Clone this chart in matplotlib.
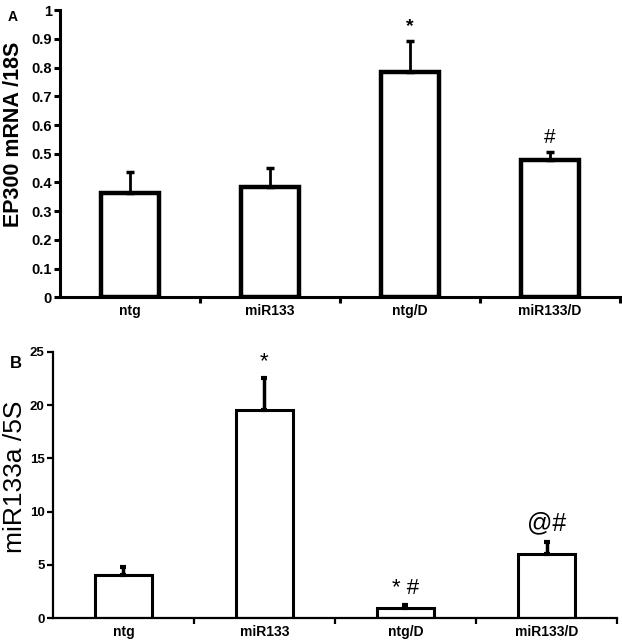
import numpy as np
import matplotlib.pyplot as plt

groups = ["ntg", "miR133", "ntg/D", "miR133/D"]

# panel A: EP300 mRNA / 18S
ep300 = [0.365, 0.383, 0.784, 0.477]
ep300_err = [0.07, 0.067, 0.108, 0.028]
ep300_marks = ["", "", "*", "#"]

# panel B: miR133a / 5S
mir = [4.05, 19.55, 0.95, 6.0]
mir_err = [0.75, 2.95, 0.3, 1.2]
mir_marks = ["", "*", "* #", "@#"]

plt.rcParams['font.family'] = ['Liberation Sans', 'DejaVu Sans']

fig = plt.figure(figsize=(6.22, 6.42), dpi=100)
axA = fig.add_axes([0.0965, 0.537, 0.9005, 0.447])
axB = fig.add_axes([0.085, 0.037, 0.907, 0.415])

x = np.arange(len(groups))


def style(ax, lw, ymax, step, fmt, fs):
    for s in ["top", "right"]:
        ax.spines[s].set_visible(False)
    ax.spines["left"].set_linewidth(lw)
    ax.spines["bottom"].set_linewidth(lw)
    ax.set_xlim(-0.5, len(groups) - 0.5)
    ax.set_ylim(0, ymax)
    ax.set_yticks(np.arange(0, ymax + step / 2, step))
    ax.set_yticklabels([fmt(v) for v in np.arange(0, ymax + step / 2, step)],
                       fontsize=fs, fontweight="bold")
    ax.set_xticks(x)
    ax.set_xticklabels(groups, fontsize=10, fontweight="bold")
    ax.tick_params(axis="x", length=0, pad=5)
    ax.set_xticks(np.arange(0.5, len(groups) - 0.4, 1), minor=True)
    ax.tick_params(axis="x", which="minor", length=4, width=lw)
    ax.tick_params(axis="y", length=4, width=lw, pad=2)


# panel A
axA.bar(x, ep300, width=0.41, color="white", edgecolor="black", linewidth=3.2,
        yerr=[np.zeros(4), ep300_err], error_kw=dict(ecolor="black", elinewidth=2,
                                                      capsize=3, capthick=2.5))
style(axA, 2.2, 1.0, 0.1,
      lambda v: "0" if v == 0 else ("1" if abs(v - 1) < 1e-9 else f"{v:.1f}"), 10.5)
axA.set_ylabel("EP300 mRNA /18S", fontsize=15.5, fontweight="bold")
axA.yaxis.set_label_coords(-0.064, 0.568)
for i, m in enumerate(ep300_marks):
    if m:
        axA.text(i, ep300[i] + ep300_err[i] + 0.02, m, ha="center", va="bottom",
                 fontsize=15 if m == "#" else 14, fontweight="bold" if m == "*" else "normal")
fig.text(0.012, 0.985, "A", fontsize=10, fontweight="bold", ha="left", va="top")

# panel B
axB.bar(x, mir, width=0.4, color="white", edgecolor="black", linewidth=2.2,
        yerr=[np.zeros(4), mir_err], error_kw=dict(ecolor="black", elinewidth=2.5,
                                                    capsize=2, capthick=3))
style(axB, 1.6, 25, 5, lambda v: f"{int(v)}", 9.5)
axB.set_ylabel("miR133a /5S", fontsize=19)
axB.yaxis.set_label_coords(-0.046, 0.53)
for i, m in enumerate(mir_marks):
    if m:
        fs = 18 if m == "@#" else 16
        axB.text(i, mir[i] + mir_err[i] + 0.6, m, ha="center", va="bottom", fontsize=fs)
fig.text(0.016, 0.434, "B", fontsize=12, fontweight="bold", ha="left", va="center")

fig.savefig("out.png", dpi=100)
